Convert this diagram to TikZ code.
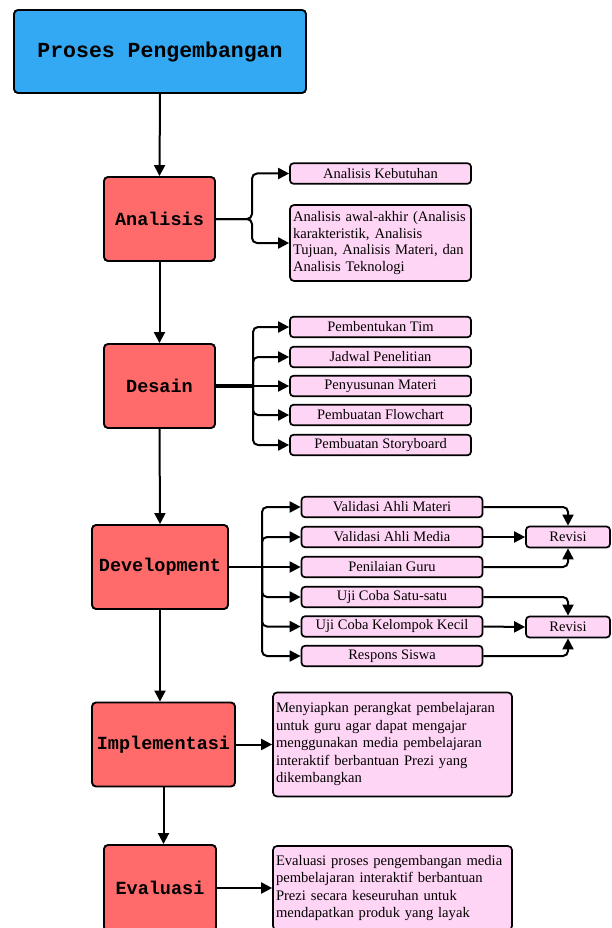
\documentclass[tikz,border=0pt]{standalone}
\usepackage{fontspec}
\setmainfont{Liberation Serif}
\setmonofont{Liberation Mono}
\usetikzlibrary{arrows.meta,calc}
\definecolor{blueb}{HTML}{33A9F4}
\definecolor{redb}{HTML}{FF6B6B}
\definecolor{pinkb}{HTML}{FFD5F5}
\tikzset{
  mainbox/.style={draw=black, line width=1.9pt, rounded corners=4pt, fill=redb, inner sep=0pt,
    font=\fontsize{18.5}{20}\selectfont\ttfamily\bfseries, minimum height=84pt},
  subbox/.style={draw=black, line width=1.7pt, rounded corners=3.5pt, fill=pinkb, inner sep=0pt,
    font=\fontsize{14.5}{16}\selectfont, minimum width=181pt, minimum height=20.5pt},
  textbox/.style={draw=black, line width=1.7pt, rounded corners=4pt, fill=pinkb, inner xsep=3pt, inner ysep=0pt,
    align=left, font=\fontsize{14.6}{17.5}\selectfont},
  conn/.style={line width=2pt, -{Triangle[length=11pt,width=11pt]}},
  plain/.style={line width=2pt},
}
\begin{document}
\begin{tikzpicture}[x=1pt,y=-1pt]
\clip (0,0) rectangle (612,928);
\fill[white] (0,0) rectangle (612,928);
% main column
\node[mainbox, fill=blueb, minimum width=292pt, minimum height=83pt, font=\fontsize{21.5}{24}\selectfont\ttfamily\bfseries] (pro) at (160,51.5) {Proses Pengembangan};
\node[mainbox, minimum width=111pt] (ana) at (159.5,219) {Analisis};
\node[mainbox, minimum width=111pt] (des) at (159.5,386) {Desain};
\node[mainbox, minimum width=136pt] (dev) at (160,567) {Development};
\node[mainbox, minimum width=143pt] (imp) at (163.5,744.5) {Implementasi};
\node[mainbox, minimum width=112pt, minimum height=86pt] (eva) at (160,888) {Evaluasi};
\draw[conn] (pro.south) -- (ana.north);
\draw[conn] (ana.south) -- (des.north);
\draw[conn] (des.south) -- (dev.north);
\draw[conn] (dev.south) -- (dev.south |- imp.north);
\draw[conn] (imp.south) -- (imp.south |- eva.north);
% Analisis branch
\node[subbox] (a1) at (380.5,173.5) {Analisis Kebutuhan};
\node[textbox, text width=175pt, minimum height=76pt, font=\fontsize{14.6}{16.5}\selectfont] (a2) at (380.5,243) {Analisis awal-akhir (Analisis\\karakteristik, Analisis\\Tujuan, Analisis Materi, dan\\Analisis Teknologi};
\coordinate (ja) at (252,219);
\draw[conn, rounded corners=5pt] (ana.east) -- (ja) |- (a1.west);
\draw[conn, rounded corners=5pt] (ana.east) -- (ja) |- (a2.west);
% Desain branch
\node[subbox] (d1) at (380.5,327) {Pembentukan Tim};
\node[subbox] (d2) at (380.5,357) {Jadwal Penelitian};
\node[subbox] (d3) at (380.5,386) {Penyusunan Materi};
\node[subbox] (d4) at (380.5,415) {Pembuatan Flowchart};
\node[subbox] (d5) at (380.5,445) {Pembuatan Storyboard};
\coordinate (jd) at (253,386);
\draw[line width=3.8pt] (des.east) -- (jd);
\draw[conn, rounded corners=5pt] (jd) |- (d1.west);
\draw[conn, rounded corners=5pt] (jd) |- (d2.west);
\draw[conn] (jd) -- (d3.west);
\draw[conn, rounded corners=5pt] (jd) |- (d4.west);
\draw[conn, rounded corners=5pt] (jd) |- (d5.west);
% Development branch
\node[subbox] (v1) at (392,507) {Validasi Ahli Materi};
\node[subbox] (v2) at (392,537) {Validasi Ahli Media};
\node[subbox] (v3) at (392,567) {Penilaian Guru};
\node[subbox] (v4) at (392,597) {Uji Coba Satu-satu};
\node[subbox] (v5) at (392,626.5) {Uji Coba Kelompok Kecil};
\node[subbox] (v6) at (392,656) {Respons Siswa};
\node[subbox, minimum width=84pt, minimum height=21pt] (r1) at (568,537) {Revisi};
\node[subbox, minimum width=84pt, minimum height=21pt] (r2) at (568,627) {Revisi};
\coordinate (jv) at (262,567);
\draw[plain] (dev.east) -- (jv);
\draw[conn, rounded corners=5pt] (jv) |- (v1.west);
\draw[conn, rounded corners=5pt] (jv) |- (v2.west);
\draw[conn] (jv) -- (v3.west);
\draw[conn, rounded corners=5pt] (jv) |- (v4.west);
\draw[conn, rounded corners=5pt] (jv) |- (v5.west);
\draw[conn, rounded corners=5pt] (jv) |- (v6.west);
\draw[conn, rounded corners=5pt] (v1.east) -| (r1.north);
\draw[conn] (v2.east) -- (r1.west);
\draw[conn, rounded corners=5pt] (v3.east) -| (r1.south);
\draw[conn, rounded corners=5pt] (v4.east) -| (r2.north);
\draw[conn] (v5.east) -- (r2.west);
\draw[conn, rounded corners=5pt] (v6.east) -| (r2.south);
% Implementasi and Evaluasi
\node[textbox, text width=233pt, minimum height=104pt] (it) at (392.5,744.5) {Menyiapkan perangkat pembelajaran\\untuk guru agar dapat mengajar\\menggunakan media pembelajaran\\interaktif berbantuan Prezi yang\\dikembangkan};
\node[textbox, text width=233pt, minimum height=84pt] (et) at (392.5,888) {Evaluasi proses pengembangan media\\pembelajaran interaktif berbantuan\\Prezi secara keseuruhan untuk\\mendapatkan produk yang layak};
\draw[conn] (imp.east) -- (it.west);
\draw[conn] (eva.east) -- (et.west);
\end{tikzpicture}
\end{document}
